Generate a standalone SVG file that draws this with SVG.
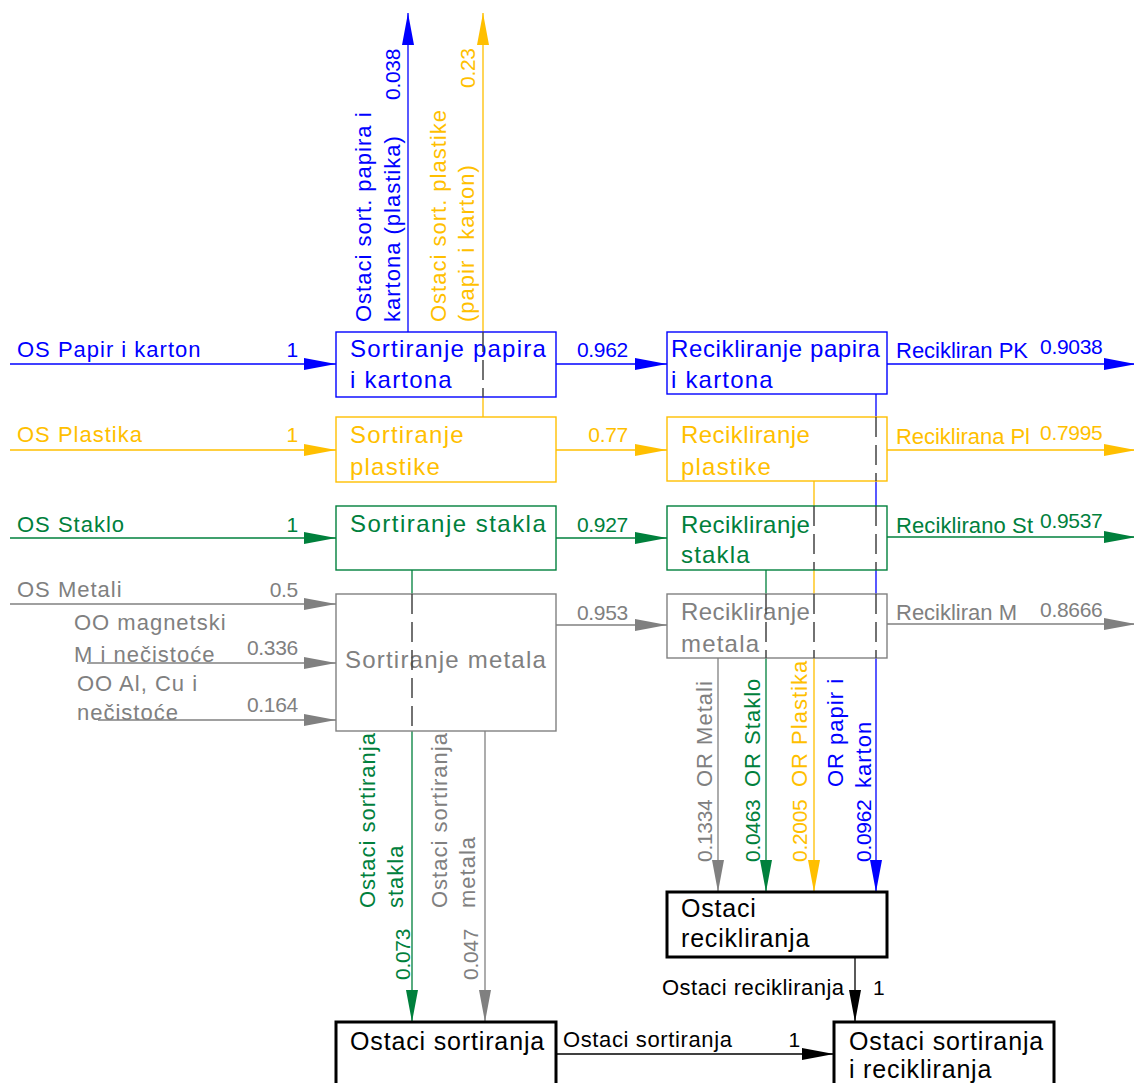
<svg xmlns="http://www.w3.org/2000/svg" width="1134" height="1083" viewBox="0 0 1134 1083">
<style>
text{font-family:"Liberation Sans",Arial,sans-serif}
.l{font-size:22px;letter-spacing:1px}
.n{font-size:21px;letter-spacing:-0.3px}
.b{font-size:24px;letter-spacing:1.2px}
.k{font-size:25px;letter-spacing:0.8px}
.e{text-anchor:end}
.cb{fill:#0000ff}.cy{fill:#ffbf00}.cg{fill:#00803c}.cs{fill:#808080}.ck{fill:#000}
.box{fill:#fff;stroke-width:1.4}
.kb{fill:#fff;stroke:#000;stroke-width:3}
.w{fill:none;stroke-width:1.3}
.sb{stroke:#0000ff}.sy{stroke:#ffbf00}.sg{stroke:#00803c}.ss{stroke:#808080}.sk{stroke:#000}
.hid{fill:none;stroke:#444;stroke-width:1.5;stroke-dasharray:20 8}
</style>
<defs>
<marker id="ab" markerUnits="userSpaceOnUse" viewBox="0 0 32 12" markerWidth="32" markerHeight="12" refX="32" refY="6" orient="auto"><path d="M0,0L32,6L0,12Z" fill="#0000ff"/></marker>
<marker id="ay" markerUnits="userSpaceOnUse" viewBox="0 0 32 12" markerWidth="32" markerHeight="12" refX="32" refY="6" orient="auto"><path d="M0,0L32,6L0,12Z" fill="#ffbf00"/></marker>
<marker id="ag" markerUnits="userSpaceOnUse" viewBox="0 0 32 12" markerWidth="32" markerHeight="12" refX="32" refY="6" orient="auto"><path d="M0,0L32,6L0,12Z" fill="#00803c"/></marker>
<marker id="as" markerUnits="userSpaceOnUse" viewBox="0 0 32 12" markerWidth="32" markerHeight="12" refX="32" refY="6" orient="auto"><path d="M0,0L32,6L0,12Z" fill="#808080"/></marker>
<marker id="ak" markerUnits="userSpaceOnUse" viewBox="0 0 32 12" markerWidth="32" markerHeight="12" refX="32" refY="6" orient="auto"><path d="M0,0L32,6L0,12Z" fill="#000"/></marker>
</defs>
<rect width="1134" height="1083" fill="#fff"/>

<g id="connectors">
<path class="w sb" d="M10,364H336" marker-end="url(#ab)"/>
<path class="w sb" d="M556,364H667" marker-end="url(#ab)"/>
<path class="w sb" d="M887,364H1136" marker-end="url(#ab)"/>
<path class="w sb" d="M408,332V13" marker-end="url(#ab)"/>
<path class="w sb" d="M876,394V417M876,481V506M876,570V594M876,658V892" marker-end="url(#ab)"/>

<path class="w sy" d="M10,450H336" marker-end="url(#ay)"/>
<path class="w sy" d="M556,450H667" marker-end="url(#ay)"/>
<path class="w sy" d="M887,450H1136" marker-end="url(#ay)"/>
<path class="w sy" d="M483,417V397M483,332V13" marker-end="url(#ay)"/>
<path class="w sy" d="M814,481V506M814,570V594M814,658V892" marker-end="url(#ay)"/>

<path class="w sg" d="M10,538H336" marker-end="url(#ag)"/>
<path class="w sg" d="M556,538H667" marker-end="url(#ag)"/>
<path class="w sg" d="M887,537H1136" marker-end="url(#ag)"/>
<path class="w sg" d="M412,570V594M412,731V1022" marker-end="url(#ag)"/>
<path class="w sg" d="M766,570V594M766,658V892" marker-end="url(#ag)"/>

<path class="w ss" d="M10,604H336" marker-end="url(#as)"/>
<path class="w ss" d="M87,663H336" marker-end="url(#as)"/>
<path class="w ss" d="M98,720H336" marker-end="url(#as)"/>
<path class="w ss" d="M556,625H667" marker-end="url(#as)"/>
<path class="w ss" d="M887,624H1136" marker-end="url(#as)"/>
<path class="w ss" d="M485,731V1022" marker-end="url(#as)"/>
<path class="w ss" d="M718,658V892" marker-end="url(#as)"/>

<path class="w sk" d="M855,957V1022" marker-end="url(#ak)"/>
<path class="w sk" d="M556,1054H834" marker-end="url(#ak)"/>

<g id="connector-labels">
<text class="l cb" x="17" y="357">OS Papir i karton</text>
<text class="n cb e" x="298" y="357">1</text>
<text class="n cb e" x="628" y="357">0.962</text>
<text class="l cb" x="896" y="358" textLength="133">Recikliran PK</text>
<text class="n cb" x="1040" y="354">0.9038</text>
<text class="l cb" transform="translate(371,322) rotate(-90)">Ostaci sort. papira i</text>
<text class="l cb" transform="translate(400,322) rotate(-90)">kartona (plastika)</text>
<text class="n cb" transform="translate(400,100) rotate(-90)">0.038</text>
<text class="l cb" transform="translate(843,787) rotate(-90)">OR papir i</text>
<text class="l cb" transform="translate(871,788) rotate(-90)">karton</text>
<text class="n cb" transform="translate(871,862) rotate(-90)">0.0962</text>

<text class="l cy" x="17" y="442">OS Plastika</text>
<text class="n cy e" x="298" y="442">1</text>
<text class="n cy e" x="628" y="442">0.77</text>
<text class="l cy" x="896" y="444" textLength="135">Reciklirana Pl</text>
<text class="n cy" x="1040" y="440">0.7995</text>
<text class="l cy" transform="translate(446,322) rotate(-90)">Ostaci sort. plastike</text>
<text class="l cy" transform="translate(474,322) rotate(-90)">(papir i karton)</text>
<text class="n cy" transform="translate(475,88) rotate(-90)">0.23</text>
<text class="l cy" transform="translate(807,787) rotate(-90)">OR Plastika</text>
<text class="n cy" transform="translate(807,862) rotate(-90)">0.2005</text>

<text class="l cg" x="17" y="532">OS Staklo</text>
<text class="n cg e" x="298" y="532">1</text>
<text class="n cg e" x="628" y="532">0.927</text>
<text class="l cg" x="896" y="533" textLength="138">Reciklirano St</text>
<text class="n cg" x="1040" y="528">0.9537</text>
<text class="l cg" transform="translate(375,908) rotate(-90)">Ostaci sortiranja</text>
<text class="l cg" transform="translate(403,908) rotate(-90)">stakla</text>
<text class="n cg" transform="translate(410,980) rotate(-90)">0.073</text>
<text class="l cg" transform="translate(760,787) rotate(-90)">OR Staklo</text>
<text class="n cg" transform="translate(760,862) rotate(-90)">0.0463</text>

<text class="l cs" x="17" y="597">OS Metali</text>
<text class="n cs e" x="298" y="597">0.5</text>
<text class="l cs" x="74" y="630">OO magnetski</text>
<text class="l cs" x="74" y="662">M i nečistoće</text>
<text class="n cs e" x="298" y="655">0.336</text>
<text class="l cs" x="77" y="691">OO Al, Cu i</text>
<text class="l cs" x="77" y="720">nečistoće</text>
<text class="n cs e" x="298" y="712">0.164</text>
<text class="n cs e" x="628" y="620">0.953</text>
<text class="l cs" x="896" y="620" textLength="122">Recikliran M</text>
<text class="n cs" x="1040" y="617">0.8666</text>
<text class="l cs" transform="translate(447,908) rotate(-90)">Ostaci sortiranja</text>
<text class="l cs" transform="translate(475,908) rotate(-90)">metala</text>
<text class="n cs" transform="translate(478,980) rotate(-90)">0.047</text>
<text class="l cs" transform="translate(712,787) rotate(-90)">OR Metali</text>
<text class="n cs" transform="translate(712,862) rotate(-90)">0.1334</text>

<text class="l ck" x="662" y="995" textLength="183">Ostaci recikliranja</text>
<text class="n ck" x="873" y="995">1</text>
<text class="l ck" x="563" y="1047" textLength="170">Ostaci sortiranja</text>
<text class="n ck e" x="800" y="1047">1</text>
</g>
</g>

<g id="sort-papir">
<rect class="box sb" x="336" y="332" width="220" height="65"/>
<text class="b cb" x="350" y="357" textLength="197">Sortiranje papira</text>
<text class="b cb" x="350" y="388">i kartona</text>
</g>
<g id="sort-plastika">
<rect class="box sy" x="336" y="417" width="220" height="65"/>
<text class="b cy" x="350" y="443">Sortiranje</text>
<text class="b cy" x="350" y="475">plastike</text>
</g>
<g id="sort-staklo">
<rect class="box sg" x="336" y="506" width="220" height="64"/>
<text class="b cg" x="350" y="532" textLength="197">Sortiranje stakla</text>
</g>
<g id="sort-metal">
<rect class="box ss" x="336" y="594" width="220" height="137"/>
<text class="b cs" x="345" y="668" textLength="202">Sortiranje metala</text>
</g>
<g id="rec-papir">
<rect class="box sb" x="667" y="332" width="220" height="62"/>
<text class="b cb" x="671" y="357" textLength="210">Recikliranje papira</text>
<text class="b cb" x="671" y="388">i kartona</text>
</g>
<g id="rec-plastika">
<rect class="box sy" x="667" y="417" width="220" height="64"/>
<text class="b cy" x="681" y="443" textLength="130">Recikliranje</text>
<text class="b cy" x="681" y="475">plastike</text>
</g>
<g id="rec-staklo">
<rect class="box sg" x="667" y="506" width="220" height="64"/>
<text class="b cg" x="681" y="533" textLength="130">Recikliranje</text>
<text class="b cg" x="681" y="563">stakla</text>
</g>
<g id="rec-metal">
<rect class="box ss" x="667" y="594" width="220" height="64"/>
<text class="b cs" x="681" y="620" textLength="130">Recikliranje</text>
<text class="b cs" x="681" y="652">metala</text>
</g>
<g id="ostaci-recikliranja">
<rect class="kb" x="667" y="892" width="220" height="65"/>
<text class="k ck" x="681" y="917">Ostaci</text>
<text class="k ck" x="681" y="947">recikliranja</text>
</g>
<g id="ostaci-sortiranja">
<rect class="kb" x="336" y="1022" width="220" height="80"/>
<text class="k ck" x="350" y="1050" textLength="195">Ostaci sortiranja</text>
</g>
<g id="ostaci-sort-rec">
<rect class="kb" x="834" y="1022" width="220" height="80"/>
<text class="k ck" x="849" y="1050" textLength="195">Ostaci sortiranja</text>
<text class="k ck" x="849" y="1078">i recikliranja</text>
</g>

<path class="hid" d="M483,332V397M412,594V731M876,417V481M876,506V570M876,594V658M814,506V570M814,594V658M766,594V658"/>
</svg>
